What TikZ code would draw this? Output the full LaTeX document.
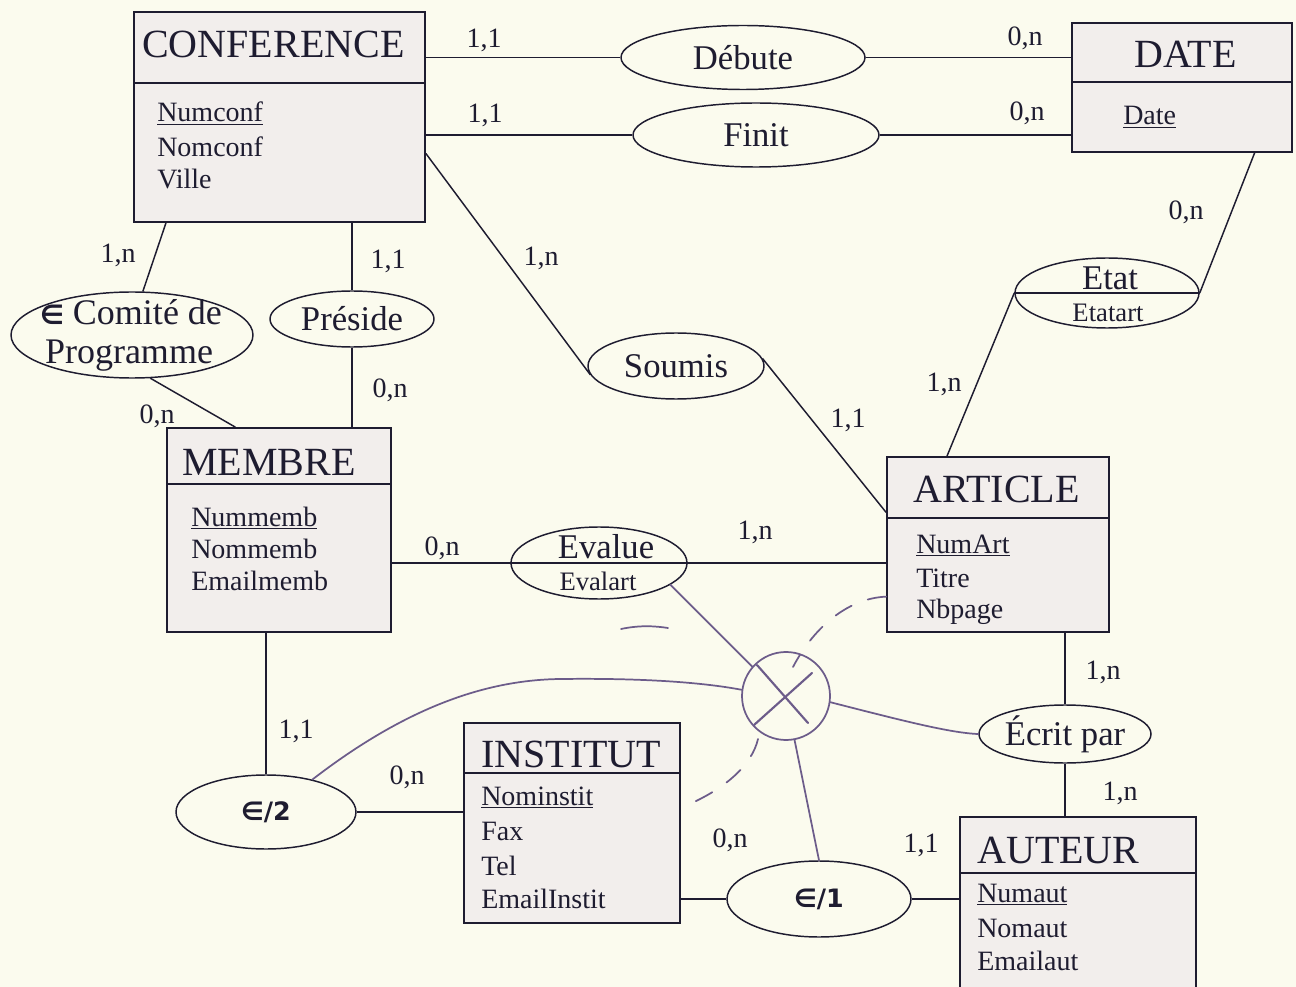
\documentclass[tikz,border=0pt]{standalone}
\usepackage{fontspec}
\setmainfont{Liberation Serif}
\newfontfamily\symfont{DejaVu Sans}
\usetikzlibrary{shapes.geometric,calc}

\definecolor{paper}{RGB}{251,251,238}
\definecolor{boxfill}{RGB}{242,238,236}
\definecolor{ink}{RGB}{30,28,48}
\definecolor{pen}{RGB}{108,92,138}

\begin{document}
\begin{tikzpicture}[x=0.75pt,y=-0.75pt,
  every node/.style={text=ink},
  entity/.style={rectangle,draw=ink,fill=boxfill,line width=1.3pt,inner sep=0pt},
  title/.style={anchor=base west,inner sep=0pt,font=\fontsize{30}{36}\selectfont},
  attr/.style={anchor=base west,inner sep=0pt,font=\fontsize{21}{25}\selectfont},
  assoc/.style={ellipse,draw=ink,line width=1.1pt,inner sep=0pt,font=\fontsize{26}{30}\selectfont},
  sublabel/.style={inner sep=0pt,font=\fontsize{20}{24}\selectfont},
  card/.style={inner sep=0pt,font=\fontsize{21}{25}\selectfont},
  link/.style={draw=ink,line width=1.1pt},
  hand/.style={draw=pen,line width=1.3pt,line cap=round},
  handdash/.style={hand,dash pattern=on 14pt off 13pt}
]
\useasboundingbox (0,0) rectangle (1296,987);
\clip (0,0) rectangle (1296,987);
\fill[paper] (0,0) rectangle (1296,987);

% ---------- entities ----------
\node[entity,minimum width=218.25pt,minimum height=157.5pt] (conf) at (279.5,117) {};
\draw[link] (134,83 -| conf.west) -- (134,83 -| conf.east);
\node[title] (conft) at (142,58) {CONFERENCE};
\node[attr] (conf1) at (157,122) {\underline{Numconf}};
\node[attr] (conf2) at (157,157) {Nomconf};
\node[attr] (conf3) at (157,189) {Ville};

\node[entity,minimum width=165pt,minimum height=96.75pt] (date) at (1182,87.5) {};
\draw[link] (0,82 -| date.west) -- (0,82 -| date.east);
\node[title] (datet) at (1134,68) {DATE};
\node[attr] (date1) at (1123,125) {\underline{Date}};

\node[entity,minimum width=168pt,minimum height=153pt] (mem) at (279,530) {};
\draw[link] (0,484 -| mem.west) -- (0,484 -| mem.east);
\node[title] (memt) at (182,475) {MEMBRE};
\node[attr] (mem1) at (191,526) {\underline{Nummemb}};
\node[attr] (mem2) at (191,558) {Nommemb};
\node[attr] (mem3) at (191,590) {Emailmemb};

\node[entity,minimum width=166.5pt,minimum height=131.25pt] (art) at (998,544.5) {};
\draw[link] (0,518 -| art.west) -- (0,518 -| art.east);
\node[title] (artt) at (913,503) {ARTICLE};
\node[attr] (art1) at (916,553) {\underline{NumArt}};
\node[attr] (art2) at (916,587) {Titre};
\node[attr] (art3) at (916,618) {Nbpage};

\node[entity,minimum width=162pt,minimum height=150pt] (inst) at (572,823) {};
\draw[link] (0,773 -| inst.west) -- (0,773 -| inst.east);
\node[title] (instt) at (481,767) {INSTITUT};
\node[attr] (inst1) at (481,805) {\underline{Nominstit}};
\node[attr] (inst2) at (481,840) {Fax};
\node[attr] (inst3) at (481,875) {Tel};
\node[attr] (inst4) at (481,908) {EmailInstit};

\node[entity,minimum width=177pt,minimum height=144.75pt] (aut) at (1078,913.5) {};
\draw[link] (0,873 -| aut.west) -- (0,873 -| aut.east);
\node[title] (autt) at (977,863) {AUTEUR};
\node[attr] (aut1) at (977,902) {\underline{Numaut}};
\node[attr] (aut2) at (977,937) {Nomaut};
\node[attr] (aut3) at (977,970) {Emailaut};

% ---------- associations ----------
\node[assoc,minimum width=183pt,minimum height=48pt] (deb) at (743,57.5) {Débute};
\node[assoc,minimum width=184.5pt,minimum height=48pt] (fin) at (756,135) {Finit};
\node[assoc,minimum width=181.5pt,minimum height=64.5pt] (com) at (132,335) {};
\node[anchor=base,inner sep=0pt,font=\fontsize{27}{32}\selectfont] (comt1) at (131,325) {{\symfont\bfseries\fontsize{20}{24}\selectfont ∈} Comité de};
\node[anchor=base,inner sep=0pt,font=\fontsize{27}{32}\selectfont] (comt2) at (129,364) {Programme};
\node[assoc,minimum width=123pt,minimum height=42pt] (pres) at (352,319) {Préside};
\node[assoc,minimum width=132pt,minimum height=49.5pt] (sou) at (676,366) {Soumis};
\node[assoc,minimum width=138pt,minimum height=52.5pt] (etat) at (1107,293) {};
\draw[link] (etat.west) -- (etat.east);
\node[inner sep=0pt,font=\fontsize{26}{30}\selectfont] (etatt) at (1110,278) {Etat};
\node[sublabel] (etats) at (1108,313) {Etatart};
\node[assoc,minimum width=132pt,minimum height=54pt] (ev) at (599,563) {};
\draw[link] (ev.west) -- (ev.east);
\node[inner sep=0pt,font=\fontsize{26}{30}\selectfont] (evt) at (606,547) {Evalue};
\node[sublabel] (evs) at (598,581) {Evalart};
\node[assoc,minimum width=129pt,minimum height=43.5pt] (ecr) at (1065,734) {Écrit par};
\node[assoc,minimum width=135pt,minimum height=55.5pt,font=\symfont\bfseries\fontsize{19}{22}\selectfont] (ei2) at (266,812) {∈/2};
\node[assoc,minimum width=138pt,minimum height=57pt,font=\symfont\bfseries\fontsize{19}{22}\selectfont] (ei1) at (819,899) {∈/1};

% ---------- links ----------
\draw[link] (deb.west -| conf.east) -- (deb.west);
\draw[link] (deb.east) -- (deb.east -| date.west);
\draw[link] (fin.west -| conf.east) -- (fin.west);
\draw[link] (fin.east) -- (fin.east -| date.west);
\draw[link] (date.-42.7) -- (etat.east);
\draw[link] (etat.west) -- (art.120.2);
\draw[link] (conf.-14.6) -- (sou.186);
\draw[link] (sou.5) -- (art.164.2);
\draw[link] (conf.-137) -- (com.76);
\draw[link] (pres.north |- conf.south) -- (pres.north);
\draw[link] (pres.south) -- (pres.south |- mem.north);
\draw[link] (com.-67) -- (mem.113.8);
\draw[link] (ev.west -| mem.east) -- (ev.west);
\draw[link] (ev.east) -- (ev.east -| art.west);
\draw[link] (ecr.north |- art.south) -- (ecr.north);
\draw[link] (ecr.south) -- (ecr.south |- aut.north);
\draw[link] (ei2.north |- mem.south) -- (ei2.north);
\draw[link] (ei2.east) -- (ei2.east -| inst.west);
\draw[link] (ei1.west -| inst.east) -- (ei1.west);
\draw[link] (ei1.east) -- (ei1.east -| aut.west);

% ---------- cardinalities ----------
\node[card] (c1) at (484,40) {1,1};
\node[card] (c2) at (1025,38) {0,n};
\node[card] (c3) at (485,115) {1,1};
\node[card] (c4) at (1027,113) {0,n};
\node[card] (c5) at (1186,212) {0,n};
\node[card] (c6) at (944,384) {1,n};
\node[card] (c7) at (541,258) {1,n};
\node[card] (c8) at (848,420) {1,1};
\node[card] (c9) at (118,255) {1,n};
\node[card] (c10) at (388,261) {1,1};
\node[card] (c11) at (390,390) {0,n};
\node[card] (c12) at (157,416) {0,n};
\node[card] (c13) at (442,548) {0,n};
\node[card] (c14) at (755,532) {1,n};
\node[card] (c15) at (1103,672) {1,n};
\node[card] (c16) at (1120,793) {1,n};
\node[card] (c17) at (296,731) {1,1};
\node[card] (c18) at (407,777) {0,n};
\node[card] (c19) at (730,840) {0,n};
\node[card] (c20) at (921,845) {1,1};

% ---------- hand-drawn constraint ----------
\node[circle,draw=pen,line width=1.3pt,minimum size=66pt,inner sep=0pt] (xc) at (786,696) {};
\draw[hand,line width=1.6pt] ($(xc.center)+(-29,-31)$) -- ($(xc.center)+(22,27)$);
\draw[hand,line width=1.6pt] ($(xc.center)+(26,-23)$) -- ($(xc.center)+(-32,29)$);
\draw[hand] (ev.-17) -- (xc.139);
\draw[hand] (ei2.35) .. controls (400,712) and (480,680) .. (560,679)
            .. controls (640,678) and (700,682) .. (xc.172);
\draw[hand] (xc.-8) .. controls (900,720) and (950,733) .. (ecr.west);
\draw[hand] (xc.-79) -- (ei1.north);
\coordinate (dA) at (793,667);
\coordinate (dB) at (758,739);
\draw[handdash] (art.205.3) .. controls (850,598) and (815,625) .. (dA);
\draw[handdash] (dB) .. controls (752,765) and (725,790) .. (inst.8.9);
\coordinate (m1) at (621,629);
\coordinate (m2) at (668,628);
\draw[hand] (m1) .. controls (640,625) and (655,626) .. (m2);
\end{tikzpicture}
\end{document}
